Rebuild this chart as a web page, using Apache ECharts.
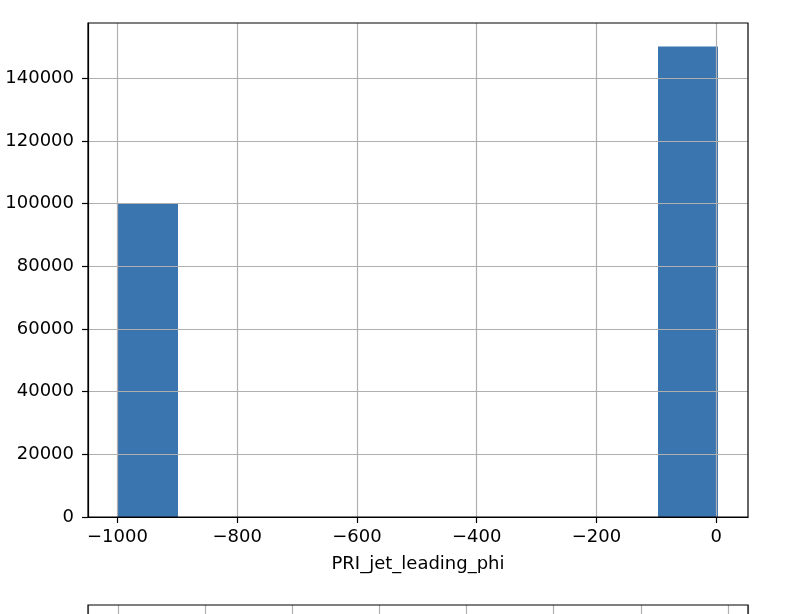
<!DOCTYPE html>
<html><head><meta charset="utf-8">
<script src="https://cdn.jsdelivr.net/npm/echarts@6/dist/echarts.min.js"></script>
<style>html,body{margin:0;padding:0;background:#fff}#c{width:786px;height:614px}</style>
</head><body><div id="c"></div>
<script>
// Histogram of PRI_jet_leading_phi (10 bins)
const binEdges = [-999, -898.786, -798.572, -698.357, -598.143, -497.929, -397.715, -297.501, -197.286, -97.072, 3.142];
const counts = [99913, 0, 0, 0, 0, 0, 0, 0, 0, 150087];
const xTicks = [-1000, -800, -600, -400, -200, 0];
const yTicks = [0, 20000, 40000, 60000, 80000, 100000, 120000, 140000];
const xLabel = 'PRI_jet_leading_phi';
// Partially visible second panel (only its vertical grid lines show)
const x2Ticks = [0, 1, 2, 3, 4, 5, 6, 7];

const FONT = 'DejaVu Sans';
const FS = 18;
const span = binEdges[binEdges.length - 1] - binEdges[0];
const xMin = binEdges[0] - 0.05 * span, xMax = binEdges[binEdges.length - 1] + 0.05 * span;
const yMax = Math.max(...counts) * 1.05;
const minus = v => String(v).replace('-', '\u2212');

const histData = counts.map((c, i) => [binEdges[i], binEdges[i + 1], c]);

const chart = echarts.init(document.getElementById('c'), null, {renderer: 'canvas'});
chart.setOption({
  animation: false,
  backgroundColor: '#fff',
  grid: [
    {left: 88, right: 38, top: 23, bottom: 97, show: true, borderColor: '#000', borderWidth: 1.2, backgroundColor: 'transparent', containLabel: false, z: 10},
    {left: 88, right: 38, top: 605, height: 400, show: true, borderColor: '#000', borderWidth: 1.2, backgroundColor: 'transparent', containLabel: false, z: 10}
  ],
  xAxis: [
    {type: 'value', gridIndex: 0, min: xMin, max: xMax, z: 5,
     minInterval: 200, maxInterval: 200,
     name: xLabel, nameLocation: 'middle', nameGap: 38,
     nameTextStyle: {fontFamily: FONT, fontSize: FS, color: '#000'},
     axisLine: {show: true, onZero: false, lineStyle: {color: '#000', width: 1.2}},
     axisTick: {show: true, length: 6, customValues: xTicks, lineStyle: {color: '#000', width: 1.2}},
     axisLabel: {show: true, margin: 11, customValues: xTicks, fontFamily: FONT, fontSize: FS, color: '#000', formatter: v => minus(v)},
     splitLine: {show: true, lineStyle: {color: '#b0b0b0', width: 1.2}}},
    {type: 'value', gridIndex: 1, min: -0.344, max: 7.23, z: 5,
     minInterval: 1, maxInterval: 1,
     axisLine: {show: false},
     axisTick: {show: false},
     axisLabel: {show: false},
     splitLine: {show: true, lineStyle: {color: '#b0b0b0', width: 1.2}}}
  ],
  yAxis: [
    {type: 'value', gridIndex: 0, min: 0, max: yMax, z: 5,
     minInterval: 20000, maxInterval: 20000,
     axisLine: {show: true, onZero: false, lineStyle: {color: '#000', width: 1.2}},
     axisTick: {show: true, length: 6, customValues: yTicks, lineStyle: {color: '#000', width: 1.2}},
     axisLabel: {show: true, margin: 14, customValues: yTicks, fontFamily: FONT, fontSize: FS, color: '#000', formatter: v => String(v)},
     splitLine: {show: true, lineStyle: {color: '#b0b0b0', width: 1.2}}},
    {type: 'value', gridIndex: 1, min: 0, max: 1, z: 5,
     axisLine: {show: false}, axisTick: {show: false}, axisLabel: {show: false}, splitLine: {show: false}}
  ],
  series: [{
    type: 'custom', xAxisIndex: 0, yAxisIndex: 0, z: 1,
    data: histData,
    encode: {x: [0, 1], y: 2},
    renderItem: (params, api) => {
      const p0 = api.coord([api.value(0), 0]);
      const p1 = api.coord([api.value(1), api.value(2)]);
      return {type: 'rect', shape: {x: p0[0], y: p1[1], width: p1[0] - p0[0], height: p0[1] - p1[1]},
              style: {fill: '#3a75af'}};
    }
  }]
});
</script></body></html>
